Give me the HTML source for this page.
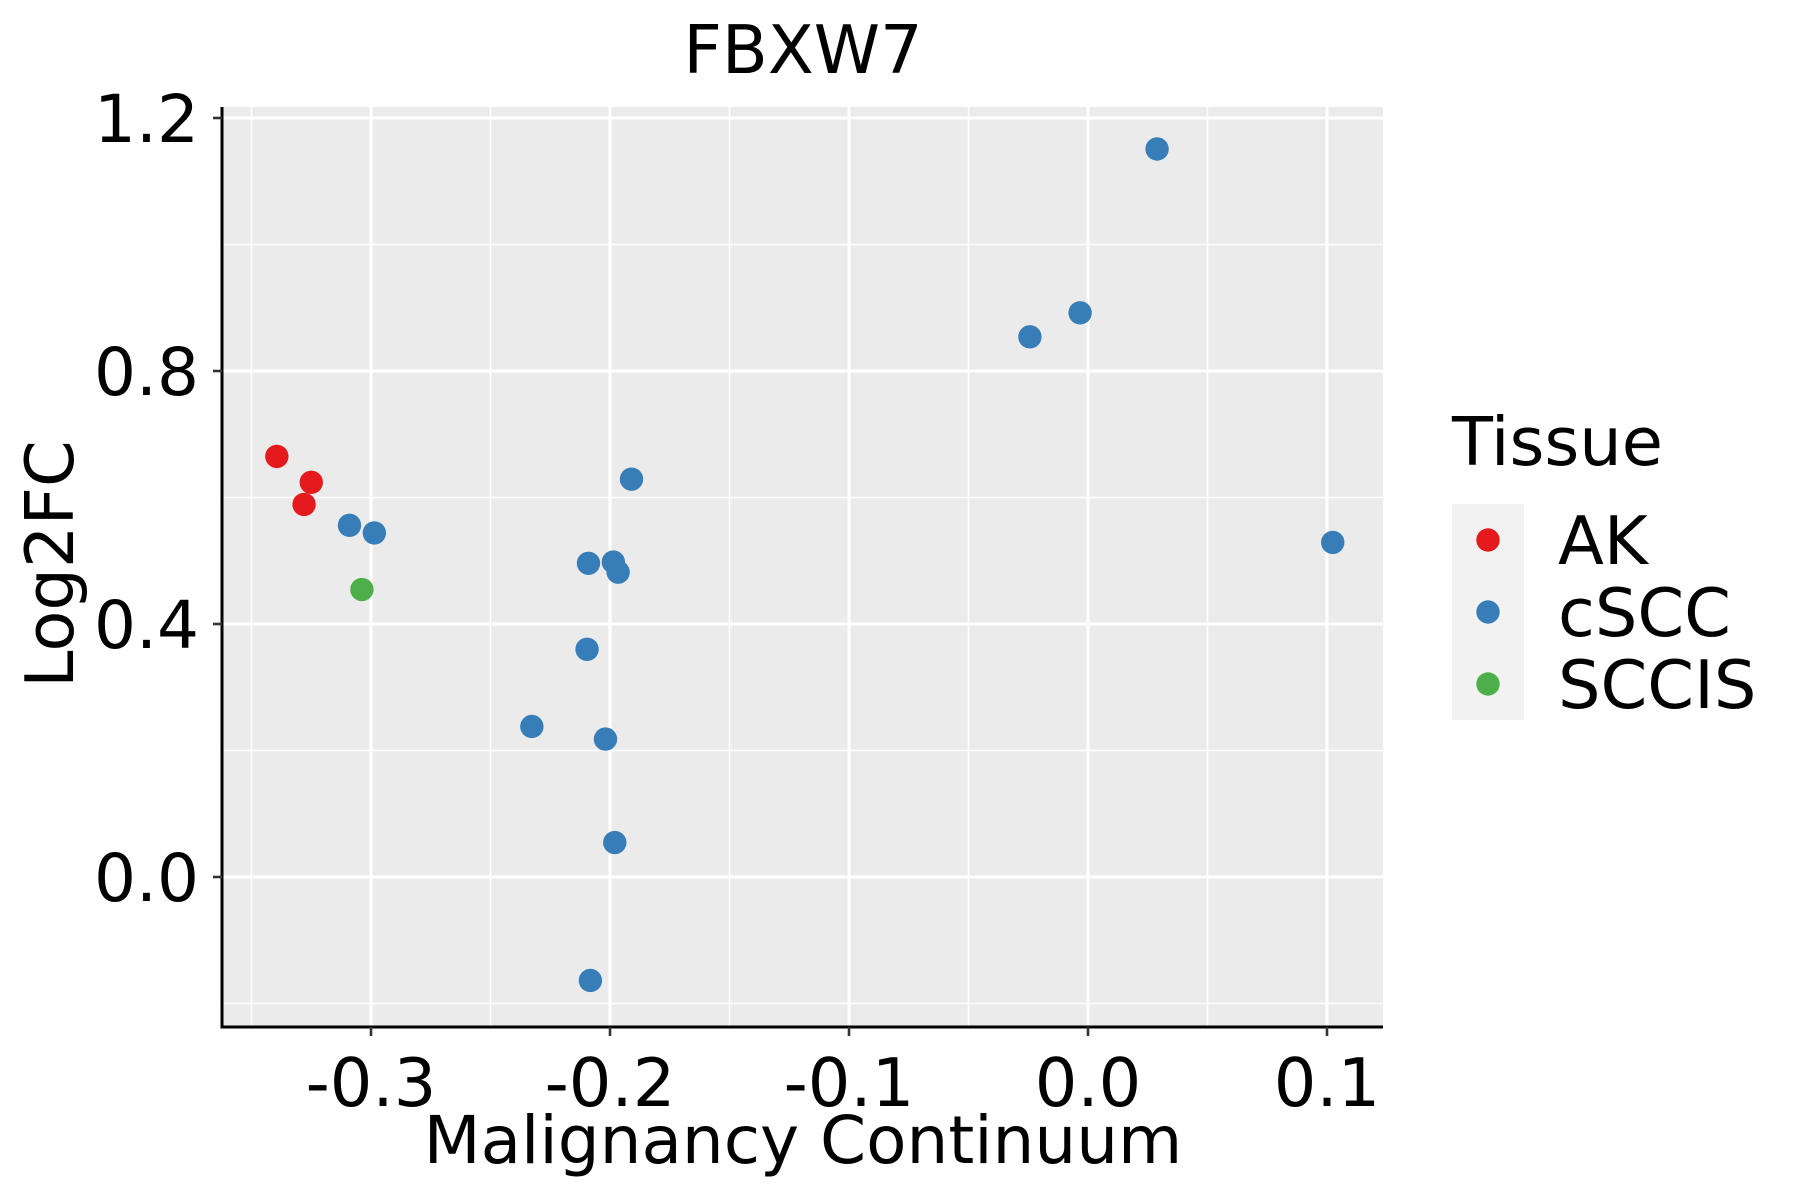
<!DOCTYPE html>
<html><head><meta charset="utf-8"><style>
html,body{margin:0;padding:0;background:#fff;}
svg{display:block;font-family:"DejaVu Sans","Liberation Sans",sans-serif;}
</style></head><body>
<svg id="chart" width="1800" height="1200" viewBox="0 0 1800 1200" xmlns="http://www.w3.org/2000/svg">
<rect x="0" y="0" width="1800" height="1200" fill="#fff"/>
<text x="803" y="73" font-size="67" text-anchor="middle" fill="#000">FBXW7</text>
<rect x="222" y="107" width="1161" height="920" fill="#EBEBEB"/>
<g id="grid"></g>
<g id="points"></g>
<line x1="222" y1="107" x2="222" y2="1028.5" stroke="#000" stroke-width="3"/>
<line x1="220.5" y1="1027" x2="1383" y2="1027" stroke="#000" stroke-width="3"/>
<g id="axes"></g>
<text x="803" y="1163" font-size="66" text-anchor="middle" fill="#000">Malignancy Continuum</text>
<text transform="translate(73,564) rotate(-90)" font-size="67" text-anchor="middle" fill="#000">Log2FC</text>
<g>
<text x="1452" y="465" font-size="67" fill="#000">Tissue</text>
<rect x="1452" y="504" width="72" height="216" fill="#F2F2F2"/>
<g id="legend-items"></g>
</g>
</svg>
<script>
const categories = ["AK", "cSCC", "SCCIS"];
const colors = ["#E41A1C", "#377EB8", "#4DAF4A"];
const xTicks = [-0.3, -0.2, -0.1, 0.0, 0.1];
const xTickLabels = ["-0.3", "-0.2", "-0.1", "0.0", "0.1"];
const yTicks = [0.0, 0.4, 0.8, 1.2];
const yTickLabels = ["0.0", "0.4", "0.8", "1.2"];
const akX = [-0.3394, -0.325, -0.328];
const akY = [0.665, 0.624, 0.589];
const csccX = [0.0289, -0.0033, -0.0243, -0.191, 0.1024, -0.309, -0.2986, -0.209, -0.1986, -0.1966, -0.2096, -0.2327, -0.2019, -0.198, -0.2082];
const csccY = [1.151, 0.892, 0.854, 0.629, 0.529, 0.556, 0.544, 0.496, 0.498, 0.482, 0.36, 0.238, 0.218, 0.0545, -0.1636];
const sccisX = [-0.3038];
const sccisY = [0.4545];

const NS = "http://www.w3.org/2000/svg";
const X0 = 1088, XS = 2390;
const Y0 = 877, YS = 632.5;
function sx(v){ return X0 + v * XS; }
function sy(v){ return Y0 - v * YS; }
function mk(tag, attrs, parent){
  const e = document.createElementNS(NS, tag);
  for (const k in attrs) e.setAttribute(k, attrs[k]);
  parent.appendChild(e);
  return e;
}
const L = 222, R = 1383, T = 107, B = 1027;
const grid = document.getElementById('grid');
for (let i = 0; i < xTicks.length - 1; i++) {
  const v = (xTicks[i] + xTicks[i+1]) / 2;
  const ln = mk('line', {x1: sx(v), x2: sx(v), y1: T, y2: B, stroke: '#fff', 'stroke-width': 1.5}, grid);
  
  
}
{
  const v = xTicks[0] - 0.05;
  const ln = mk('line', {x1: sx(v), x2: sx(v), y1: T, y2: B, stroke: '#fff', 'stroke-width': 1.5}, grid);
  
  
}
for (let i = 0; i < yTicks.length - 1; i++) {
  const v = (yTicks[i] + yTicks[i+1]) / 2;
  const ln = mk('line', {x1: L, x2: R, y1: sy(v), y2: sy(v), stroke: '#fff', 'stroke-width': 1.5}, grid);
  
  
}
{
  const v = yTicks[0] - 0.2;
  const ln = mk('line', {x1: L, x2: R, y1: sy(v), y2: sy(v), stroke: '#fff', 'stroke-width': 1.5}, grid);
  
  
}
const axes = document.getElementById('axes');
xTicks.forEach((v, i) => {
  const ln = mk('line', {x1: sx(v), x2: sx(v), y1: T, y2: B, stroke: '#fff', 'stroke-width': 3}, grid);
  
  
  const tk = mk('line', {x1: sx(v), x2: sx(v), y1: B, y2: B + 9, stroke: '#333', 'stroke-width': 2.6}, axes);
  
  
  const t = mk('text', {x: sx(v), y: 1106, 'font-size': 67, 'text-anchor': 'middle', fill: '#000'}, axes);
  t.textContent = xTickLabels[i];
  
  
});
yTicks.forEach((v, i) => {
  const ln = mk('line', {x1: L, x2: R, y1: sy(v), y2: sy(v), stroke: '#fff', 'stroke-width': 3}, grid);
  
  
  const tk = mk('line', {x1: L - 9, x2: L, y1: sy(v), y2: sy(v), stroke: '#333', 'stroke-width': 2.6}, axes);
  
  
  const t = mk('text', {x: 199, y: sy(v) + 24, 'font-size': 66, 'text-anchor': 'end', fill: '#000'}, axes);
  t.textContent = yTickLabels[i];
  
  
});
const pts = document.getElementById('points');
const series = [[akX, akY], [csccX, csccY], [sccisX, sccisY]];
series.forEach((s, ci) => {
  s[0].forEach((xv, j) => {
    const c = mk('circle', {cx: sx(xv), cy: sy(s[1][j]), r: 11.7, fill: colors[ci]}, pts);
    
    
  });
});
const leg = document.getElementById('legend-items');
categories.forEach((c, i) => {
  const cy = 540 + i * 72;
  const dot = mk('circle', {cx: 1488, cy: cy, r: 11.7, fill: colors[i]}, leg);
  
  
  const t = mk('text', {x: 1558, y: cy + 24, 'font-size': 67, fill: '#000'}, leg);
  t.textContent = c;
  
  
});
</script>
</body></html>
